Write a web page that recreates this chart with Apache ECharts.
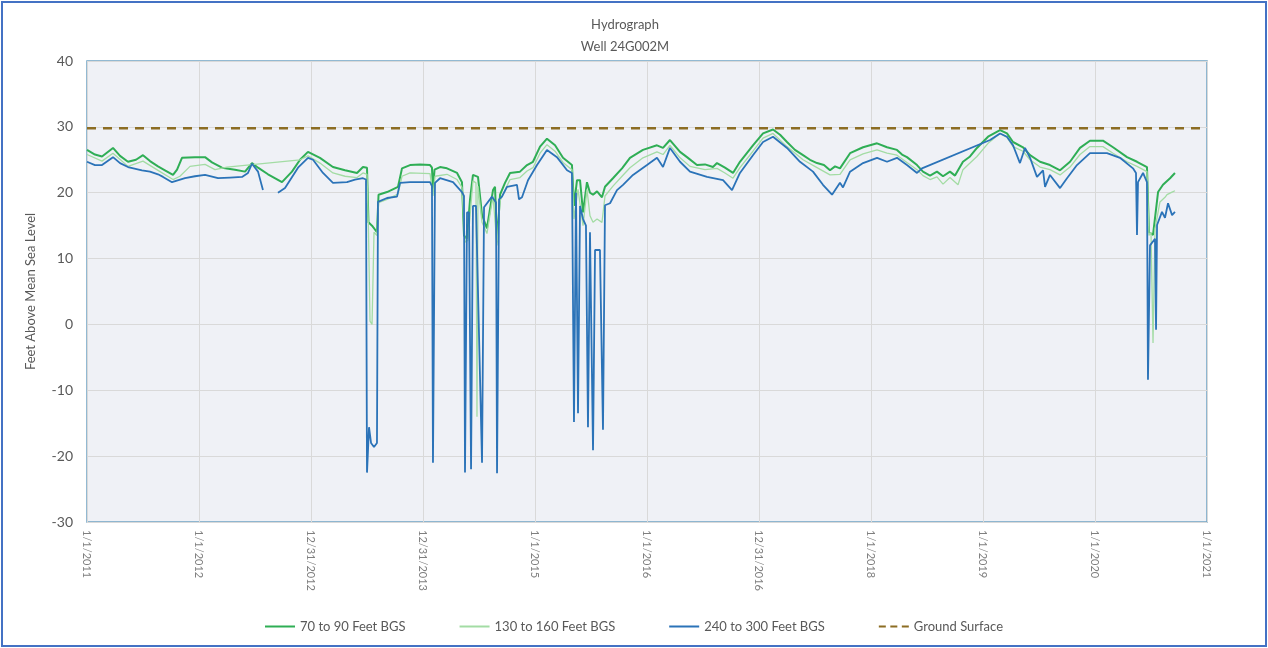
<!DOCTYPE html>
<html>
<head>
<meta charset="utf-8">
<script src="https://cdn.jsdelivr.net/npm/echarts@6/dist/echarts.min.js"></script>
<style>
html,body{margin:0;padding:0;background:#fff;}
#frame{position:absolute;left:1px;top:1px;width:1262px;height:642px;border:2px solid #4472c4;}
#chart{position:absolute;left:0;top:0;width:1268px;height:648px;}
</style>
</head>
<body>
<div id="frame"></div>
<div id="chart"></div>
<script>
// x values: decimal years
const tickLabels = ['1/1/2011','1/1/2012','12/31/2012','12/31/2013','1/1/2015','1/1/2016','12/31/2016','1/1/2018','1/1/2019','1/1/2020','1/1/2021'];
const seriesNames = ['70 to 90 Feet BGS','130 to 160 Feet BGS','240 to 300 Feet BGS','Ground Surface'];
const groundSurface = [[2011, 29.8], [2021, 29.8]];

const well70to90 = [
[2011.000,26.5],[2011.071,25.8],[2011.134,25.5],[2011.232,26.8],[2011.295,25.6],[2011.366,24.7],[2011.4375,25.0],[2011.500,25.7],
[2011.5625,24.8],[2011.634,24.0],[2011.696,23.4],[2011.768,22.7],[2011.804,23.5],[2011.848,25.3],[2011.964,25.4],[2012.054,25.4],
[2012.116,24.6],[2012.205,23.8],[2012.321,23.5],[2012.411,23.2],[2012.473,24.5],[2012.527,23.8],[2012.616,22.8],[2012.741,21.6],
[2012.830,23.2],[2012.902,25.0],[2012.973,26.2],[2013.080,25.3],[2013.196,23.9],[2013.304,23.4],[2013.411,23.0],[2013.464,23.9],
[2013.500,23.8],[2013.513,15.5],[2013.545,15.0],[2013.589,14.0],[2013.603,19.7],[2013.679,20.1],[2013.777,20.9],[2013.8125,23.7],
[2013.884,24.2],[2013.973,24.3],[2014.063,24.2],[2014.080,23.8],[2014.089,20.5],[2014.103,23.5],[2014.152,23.9],[2014.214,23.7],
[2014.304,23.0],[2014.348,21.6],[2014.366,13.5],[2014.393,13.0],[2014.420,19.0],[2014.446,22.7],[2014.491,22.4],[2014.527,16.6],
[2014.571,14.6],[2014.625,20.4],[2014.643,20.9],[2014.661,12.5],[2014.688,19.7],[2014.732,21.5],[2014.777,23.0],[2014.866,23.2],
[2014.929,24.2],[2014.982,24.7],[2015.045,27.0],[2015.107,28.2],[2015.179,27.2],[2015.250,25.3],[2015.330,24.2],[2015.348,18.0],
[2015.375,21.9],[2015.402,21.9],[2015.429,17.0],[2015.464,21.6],[2015.491,20.0],[2015.518,19.7],[2015.554,20.2],[2015.598,19.3],
[2015.625,20.9],[2015.696,22.2],[2015.777,23.7],[2015.848,25.3],[2015.964,26.5],[2016.089,27.2],[2016.143,26.8],[2016.205,28.0],
[2016.295,26.2],[2016.357,25.4],[2016.446,24.2],[2016.518,24.3],[2016.589,23.9],[2016.625,24.5],[2016.696,23.8],[2016.768,23.0],
[2016.830,24.7],[2016.946,27.2],[2017.036,29.0],[2017.125,29.6],[2017.188,28.8],[2017.250,27.7],[2017.321,26.5],[2017.393,25.7],
[2017.455,25.0],[2017.518,24.5],[2017.580,24.2],[2017.634,23.4],[2017.679,24.0],[2017.723,23.7],[2017.813,26.0],[2017.929,26.9],
[2018.054,27.5],[2018.143,26.9],[2018.232,26.5],[2018.277,25.8],[2018.321,25.4],[2018.411,24.2],[2018.464,23.2],[2018.527,22.6],
[2018.589,23.2],[2018.643,22.5],[2018.705,23.2],[2018.750,22.6],[2018.821,24.7],[2018.884,25.5],[2018.946,26.8],[2019.045,28.5],
[2019.152,29.5],[2019.214,29.0],[2019.268,27.7],[2019.357,26.9],[2019.420,25.7],[2019.509,24.7],[2019.598,24.2],[2019.688,23.4],
[2019.777,24.7],[2019.866,26.8],[2019.955,27.9],[2020.071,27.9],[2020.161,26.9],[2020.286,25.4],[2020.375,24.7],[2020.464,23.9],
[2020.482,14.0],[2020.518,13.6],[2020.563,20.1],[2020.607,21.2],[2020.670,22.2],[2020.714,23.0]
];

const well130to160 = [
[2011.000,25.8],[2011.134,24.8],[2011.232,26.0],[2011.366,24.0],[2011.500,24.8],[2011.634,23.4],[2011.768,22.0],[2011.830,22.5],
[2011.920,24.0],[2012.054,24.3],[2012.143,23.5],[2012.250,23.9],[2012.902,25.0],[2012.973,25.6],[2013.080,24.5],[2013.196,23.0],
[2013.304,22.5],[2013.411,22.3],[2013.464,23.0],[2013.500,22.8],[2013.513,14.5],[2013.527,0.5],[2013.545,0.0],[2013.5625,14.0],
[2013.589,13.5],[2013.603,18.5],[2013.679,19.0],[2013.777,19.8],[2013.8125,22.5],[2013.884,23.0],[2014.063,22.9],[2014.089,19.5],
[2014.107,22.5],[2014.214,22.8],[2014.304,22.0],[2014.348,20.8],[2014.375,12.5],[2014.402,12.8],[2014.446,21.8],[2014.473,21.5],
[2014.482,-14.0],[2014.491,21.0],[2014.527,15.5],[2014.571,13.8],[2014.625,19.5],[2014.661,12.0],[2014.688,18.8],[2014.777,22.0],
[2014.866,22.3],[2014.929,23.3],[2014.982,23.8],[2015.045,26.0],[2015.107,27.3],[2015.179,26.3],[2015.250,24.6],[2015.330,23.5],
[2015.348,16.0],[2015.384,20.5],[2015.429,15.0],[2015.464,20.5],[2015.491,16.5],[2015.518,15.5],[2015.554,16.0],[2015.598,15.5],
[2015.625,19.5],[2015.696,21.0],[2015.777,22.5],[2015.848,23.8],[2015.964,25.3],[2016.089,26.2],[2016.143,25.8],[2016.205,27.2],
[2016.295,25.3],[2016.384,24.0],[2016.518,23.5],[2016.625,23.7],[2016.696,23.0],[2016.768,22.2],[2016.830,23.8],[2016.946,26.3],
[2017.036,28.3],[2017.125,29.0],[2017.250,27.0],[2017.393,25.0],[2017.518,23.8],[2017.634,22.7],[2017.723,22.8],[2017.813,25.0],
[2017.929,25.9],[2018.054,26.5],[2018.143,26.0],[2018.232,25.7],[2018.321,24.6],[2018.411,23.5],[2018.464,22.6],[2018.527,22.0],
[2018.589,22.4],[2018.643,21.3],[2018.705,22.3],[2018.777,21.2],[2018.821,23.5],[2018.884,24.5],[2018.946,25.5],[2019.045,27.5],
[2019.152,29.0],[2019.214,28.4],[2019.268,27.0],[2019.357,26.3],[2019.420,25.0],[2019.509,23.9],[2019.598,23.5],[2019.688,22.7],
[2019.777,23.9],[2019.866,25.8],[2019.955,27.0],[2020.071,27.0],[2020.161,26.0],[2020.286,24.7],[2020.375,24.0],[2020.464,23.2],
[2020.482,13.5],[2020.500,14.0],[2020.518,-2.8],[2020.536,14.5],[2020.580,18.6],[2020.625,19.3],[2020.643,19.7],[2020.688,20.1],
[2020.714,20.3]
];

const well240to300 = [
[2011.000,24.7],[2011.071,24.2],[2011.134,24.2],[2011.232,25.4],[2011.295,24.5],[2011.366,23.9],[2011.491,23.4],[2011.5625,23.2],
[2011.634,22.8],[2011.679,22.4],[2011.759,21.6],[2011.875,22.2],[2011.964,22.5],[2012.054,22.7],[2012.170,22.2],[2012.277,22.3],
[2012.384,22.4],[2012.4375,23.0],[2012.473,24.4],[2012.527,23.2],[2012.571,20.4],[2012.640,'-'],[2012.705,20.0],[2012.768,20.7],
[2012.884,23.8],[2012.973,25.3],[2013.018,25.0],[2013.107,23.0],[2013.196,21.5],[2013.321,21.6],[2013.393,22.0],[2013.464,22.2],
[2013.491,22.0],[2013.500,-22.5],[2013.518,-15.6],[2013.536,-18.0],[2013.5625,-18.6],[2013.589,-18.0],[2013.598,18.6],[2013.679,19.2],
[2013.768,19.4],[2013.795,21.5],[2013.884,21.6],[2014.063,21.6],[2014.080,21.0],[2014.089,-21.0],[2014.107,21.5],[2014.152,22.2],
[2014.268,21.6],[2014.348,20.1],[2014.366,19.5],[2014.375,-22.5],[2014.393,17.0],[2014.411,17.0],[2014.429,-22.0],[2014.446,18.0],
[2014.473,18.0],[2014.527,-21.0],[2014.545,17.8],[2014.616,19.4],[2014.652,18.5],[2014.661,-22.6],[2014.679,19.0],[2014.705,19.4],
[2014.750,20.9],[2014.839,21.2],[2014.857,19.0],[2014.884,19.3],[2014.9375,21.9],[2015.018,24.2],[2015.107,26.5],[2015.196,25.4],
[2015.286,23.4],[2015.330,23.0],[2015.348,-14.8],[2015.366,20.0],[2015.384,-13.5],[2015.402,18.0],[2015.429,16.0],[2015.455,15.0],
[2015.473,-15.6],[2015.491,14.0],[2015.518,-19.1],[2015.536,11.3],[2015.580,11.3],[2015.607,-16.0],[2015.625,18.1],[2015.670,18.4],
[2015.732,20.4],[2015.786,21.2],[2015.875,22.7],[2016.000,24.2],[2016.089,25.3],[2016.143,23.9],[2016.205,26.8],[2016.295,24.7],
[2016.384,23.2],[2016.536,22.4],[2016.679,21.9],[2016.759,20.4],[2016.830,23.0],[2016.946,25.7],[2017.036,27.7],[2017.125,28.5],
[2017.250,26.8],[2017.366,24.7],[2017.482,23.2],[2017.571,21.2],[2017.652,19.7],[2017.723,21.5],[2017.750,20.8],[2017.813,23.2],
[2017.929,24.5],[2018.054,25.3],[2018.143,24.7],[2018.232,25.3],[2018.321,24.2],[2018.411,23.0],[2018.455,23.7],[2019.063,28.0],
[2019.152,29.0],[2019.214,28.5],[2019.268,27.2],[2019.330,24.5],[2019.375,26.8],[2019.420,25.3],[2019.482,22.4],[2019.536,23.4],
[2019.554,20.9],[2019.598,22.7],[2019.688,20.7],[2019.750,22.2],[2019.839,24.2],[2019.955,26.0],[2020.107,26.0],[2020.223,25.3],
[2020.339,23.7],[2020.366,23.0],[2020.375,13.6],[2020.384,21.6],[2020.429,23.0],[2020.464,21.6],[2020.473,-8.4],[2020.491,12.0],
[2020.536,13.0],[2020.545,-0.8],[2020.554,15.1],[2020.598,17.1],[2020.625,16.2],[2020.652,18.4],[2020.688,16.6],[2020.714,17.1]
];

const chart = echarts.init(document.getElementById('chart'), null, {renderer: 'canvas'});
const font = 'Lato, "Open Sans", sans-serif';
const solidIcon = 'path://M0,0L30,0L30,2L0,2Z';
const dashIcon = 'path://M0,0h7v2h-7z M11.5,0h7v2h-7z M23,0h7v2h-7z';
chart.setOption({
  animation: false,
  backgroundColor: 'transparent',
  title: {
    text: 'Hydrograph\nWell 24G002M',
    left: 620, top: 9, textAlign: 'center',
    textStyle: {fontFamily: font, fontSize: 13, fontWeight: 'normal', color: '#595959', lineHeight: 22}
  },
  legend: {
    bottom: 10, left: 'center',
    itemWidth: 30, itemHeight: 2.5, itemGap: 54,
    textStyle: {fontFamily: font, fontSize: 13, color: '#595959'},
    data: [
      {name: seriesNames[0], icon: solidIcon},
      {name: seriesNames[1], icon: solidIcon},
      {name: seriesNames[2], icon: solidIcon},
      {name: seriesNames[3], icon: dashIcon}
    ]
  },
  grid: {
    left: 87, right: 61, top: 61, bottom: 126,
    show: true, backgroundColor: '#eff1f6', borderColor: '#6fa3c4', borderWidth: 1.5
  },
  xAxis: {
    type: 'value', min: 2011, max: 2021, interval: 1,
    axisLine: {show: false}, axisTick: {show: false},
    splitLine: {show: true, lineStyle: {color: '#d9d9d9', width: 1}},
    axisLabel: {
      rotate: -90, margin: 8, fontFamily: font, fontSize: 11, color: '#7f7f7f',
      formatter: v => tickLabels[Math.round(v - 2011)]
    }
  },
  yAxis: {
    type: 'value', min: -30, max: 40, interval: 10,
    name: 'Feet Above Mean Sea Level', nameLocation: 'middle', nameGap: 50, nameRotate: 90,
    nameTextStyle: {fontFamily: font, fontSize: 13, color: '#595959'},
    axisLine: {show: false}, axisTick: {show: false},
    splitLine: {show: true, lineStyle: {color: '#d9d9d9', width: 1}},
    axisLabel: {fontFamily: font, fontSize: 14, color: '#595959', margin: 14}
  },
  series: [
    {name: seriesNames[0], type: 'line', data: well70to90, showSymbol: false, symbol: 'none',
     lineStyle: {color: '#2fae55', width: 2}, itemStyle: {color: '#2fae55'}, z: 2},
    {name: seriesNames[1], type: 'line', data: well130to160, showSymbol: false, symbol: 'none',
     lineStyle: {color: '#a3dca4', width: 1.3}, itemStyle: {color: '#a3dca4'}, z: 3},
    {name: seriesNames[2], type: 'line', data: well240to300, showSymbol: false, symbol: 'none', connectNulls: false,
     lineStyle: {color: '#2b73b8', width: 1.8}, itemStyle: {color: '#2b73b8'}, z: 4},
    {name: seriesNames[3], type: 'line', data: groundSurface, showSymbol: false, symbol: 'none',
     lineStyle: {color: '#8c6d23', width: 2.5, type: [9, 7]}, itemStyle: {color: '#8c6d23'}, z: 5}
  ]
});
</script>
</body>
</html>
